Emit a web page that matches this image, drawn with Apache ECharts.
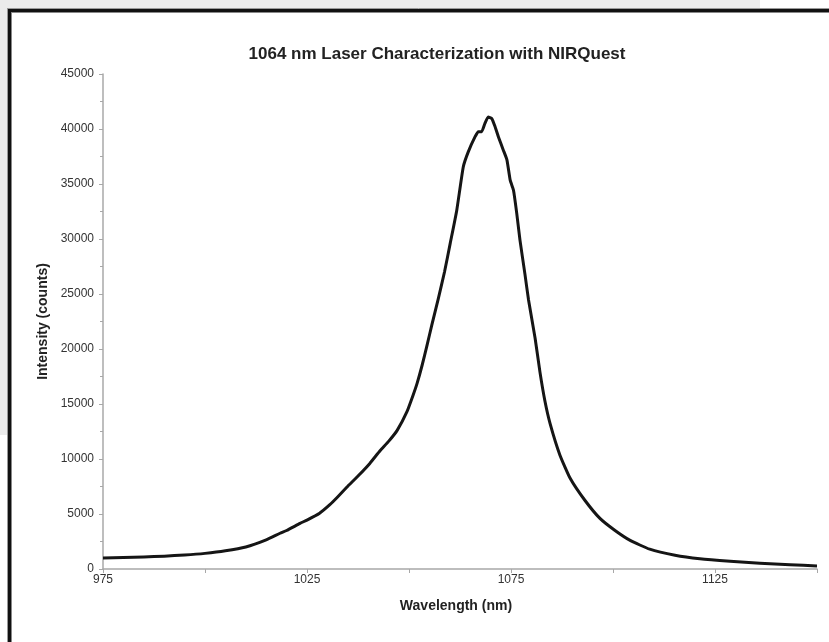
<!DOCTYPE html>
<html>
<head>
<meta charset="utf-8">
<script src="https://cdn.jsdelivr.net/npm/echarts@6/dist/echarts.min.js"></script>
<style>
html,body{margin:0;padding:0;background:#fff;}
#chart{width:829px;height:642px;}
</style>
</head>
<body>
<div id="chart"></div>
<script>
// Data
var wavelength = [975, 980, 985, 990, 995, 1000, 1005, 1010, 1015, 1018.4, 1020, 1023.3, 1025, 1028, 1030.6, 1032.5, 1034.8, 1037.5, 1040.4, 1042.9, 1045, 1047.1, 1049.5, 1051, 1052, 1053.2, 1054.4, 1055.6, 1057.2, 1058.7, 1060.1, 1061.7, 1063.3, 1064.5, 1066.2, 1067, 1067.8, 1068.6, 1069.4, 1070.3, 1071.1, 1071.9, 1073.1, 1074, 1074.8, 1075.6, 1076.4, 1077.2, 1078.4, 1079.3, 1080.9, 1082.1, 1083.3, 1084.6, 1087, 1089.5, 1093.1, 1096.8, 1100.5, 1104.2, 1109, 1115.2, 1121.3, 1128.7, 1136, 1143.4, 1150];
var intensity = [1000, 1040, 1090, 1170, 1270, 1420, 1650, 2000, 2650, 3250, 3500, 4150, 4450, 5050, 5850, 6550, 7450, 8450, 9600, 10750, 11600, 12600, 14300, 15800, 16900, 18500, 20300, 22200, 24600, 27000, 29600, 32600, 36550, 37900, 39300, 39750, 39750, 40500, 41100, 40950, 40200, 39300, 38100, 37200, 35350, 34450, 32350, 29900, 26850, 24450, 21000, 17900, 15300, 13200, 10350, 8250, 6250, 4600, 3500, 2600, 1800, 1250, 930, 700, 520, 380, 280];
var titleText = '1064 nm Laser Characterization with NIRQuest';
var xAxisName = 'Wavelength (nm)';
var yAxisName = 'Intensity (counts)';
var xLabeled = [975, 1025, 1075, 1125];

var pts = wavelength.map(function (w, i) { return [w, intensity[i]]; });
var font = '"Liberation Sans", Arial, sans-serif';

var chart = echarts.init(document.getElementById('chart'), null, {renderer: 'canvas'});
chart.setOption({
  backgroundColor: '#ffffff',
  animation: false,
  title: {
    text: titleText,
    left: 432,
    top: 41,
    textAlign: 'center',
    textStyle: {fontFamily: font, fontSize: 17, fontWeight: 'bold', color: '#222'}
  },
  graphic: [
    {type: 'rect', z: -10, shape: {x: 0, y: 0, width: 760, height: 9}, style: {fill: '#ebebeb'}},
    {type: 'rect', z: -10, shape: {x: 0, y: 0, width: 7, height: 435}, style: {fill: '#ebebeb'}},
    {type: 'line', z: 10, shape: {x1: 8, y1: 8.5, x2: 829, y2: 8.5}, style: {stroke: '#999', lineWidth: 1}},
    {type: 'line', z: 10, shape: {x1: 7.5, y1: 8, x2: 7.5, y2: 642}, style: {stroke: '#999', lineWidth: 1}},
    {type: 'line', z: 11, shape: {x1: 8, y1: 10.5, x2: 829, y2: 10.5}, style: {stroke: '#111', lineWidth: 3}},
    {type: 'line', z: 11, shape: {x1: 9.5, y1: 9, x2: 9.5, y2: 642}, style: {stroke: '#111', lineWidth: 3}},
    {type: 'line', z: 10, shape: {x1: 11, y1: 12.5, x2: 829, y2: 12.5}, style: {stroke: '#888', lineWidth: 1}},
    {type: 'line', z: 10, shape: {x1: 11.5, y1: 12, x2: 11.5, y2: 642}, style: {stroke: '#888', lineWidth: 1}}
  ],
  grid: {left: 103, right: 12, top: 74, bottom: 73, containLabel: false},
  xAxis: {
    type: 'value',
    min: 975,
    max: 1150,
    interval: 25,
    name: xAxisName,
    nameLocation: 'middle',
    nameGap: 30,
    nameTextStyle: {fontFamily: font, fontSize: 14, fontWeight: 'bold', color: '#222', padding: [0, 8, 0, 0]},
    axisLine: {show: true, lineStyle: {color: '#a8a8a8', width: 1.5}},
    axisTick: {show: true, inside: false, length: 4, lineStyle: {color: '#a8a8a8'}},
    splitLine: {show: false},
    axisLabel: {
      fontFamily: font, fontSize: 12, color: '#333', margin: 5,
      formatter: function (v) { return xLabeled.indexOf(v) >= 0 ? String(v) : ''; }
    }
  },
  yAxis: {
    type: 'value',
    min: 0,
    max: 45000,
    interval: 5000,
    name: yAxisName,
    nameLocation: 'middle',
    nameGap: 53,
    nameTextStyle: {fontFamily: font, fontSize: 14, fontWeight: 'bold', color: '#222'},
    axisLine: {show: true, lineStyle: {color: '#a8a8a8', width: 1.5}},
    axisTick: {show: true, inside: false, length: 4, lineStyle: {color: '#a8a8a8'}},
    minorTick: {show: true, splitNumber: 2, length: 3, lineStyle: {color: '#a8a8a8'}},
    splitLine: {show: false},
    axisLabel: {fontFamily: font, fontSize: 12, color: '#333', margin: 9, formatter: function (v) { return String(v); }}
  },
  series: [{
    type: 'line',
    data: pts,
    showSymbol: false,
    smooth: 0.15,
    lineStyle: {color: '#151515', width: 3, join: 'round'},
    clip: true
  }]
});
</script>
</body>
</html>
